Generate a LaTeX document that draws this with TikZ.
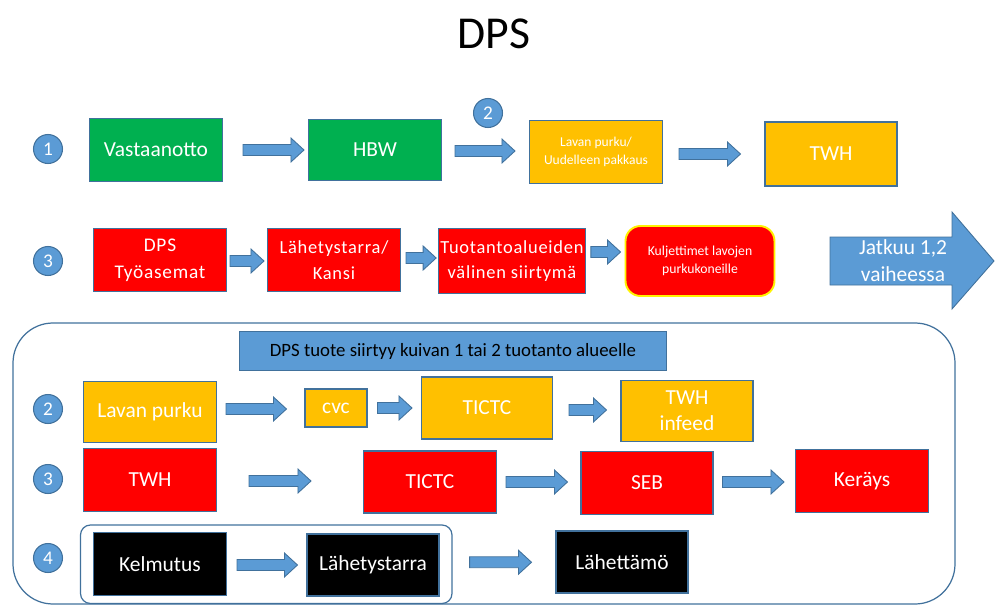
\documentclass[tikz,border=0pt]{standalone}
\usepackage{fontspec}
\setmainfont{Carlito}
\usepackage{tikz}
\usetikzlibrary{calc}
\usetikzlibrary{fit}

\definecolor{boxblue}{HTML}{5B9BD5}
\definecolor{edgeblue}{HTML}{41719C}
\definecolor{okgreen}{HTML}{00B050}
\definecolor{amber}{HTML}{FFC000}
\definecolor{stopred}{HTML}{FF0000}

\newcommand{\wide}{\addfontfeature{LetterSpace=4}}

\tikzset{
  box/.style={draw=edgeblue, line width=0.6pt, minimum width=2.66cm, minimum height=1.26cm,
    inner sep=1pt, align=center, text=white, font=\fontsize{12.2}{14.8}\selectfont},
  greenbox/.style={box, fill=okgreen},
  amberbox/.style={box, fill=amber},
  redbox/.style={box, fill=stopred},
  blackbox/.style={box, fill=black},
  stepnum/.style={circle, draw=edgeblue, fill=boxblue, line width=0.6pt, minimum size=0.58cm,
    inner sep=0pt, text=white, font=\fontsize{11}{13}\selectfont},
  barrow/.style={draw=edgeblue, fill=boxblue, line width=0.5pt, line join=miter},
  groupbox/.style={draw=edgeblue, line width=0.7pt},
}

% block arrow between two boxes: [yshift]{from}{to}{gap at start}{gap at end}
\newcommand{\flowarrow}[5][0]{%
  \path (#2.east) ++(#4,#1) coordinate (fa-s);
  \path (#3.west) ++(-#5,0) coordinate (fa-e);
  \draw[barrow] let \p1=(fa-s), \p2=(fa-e) in
    (\x1,\y1+3.1pt) -- (\x2-7.4pt,\y1+3.1pt) -- (\x2-7.4pt,\y1+6.8pt) -- (\x2,\y1)
    -- (\x2-7.4pt,\y1-6.8pt) -- (\x2-7.4pt,\y1-3.1pt) -- (\x1,\y1-3.1pt) -- cycle;
}

\begin{document}
\begin{tikzpicture}[x=0.02cm, y=-0.02cm]
    \useasboundingbox (0,0) rectangle (995,605);
    \node[font=\fontsize{26}{31}\selectfont] (title) at (494,34) {DPS};

    % vaihe 1
    \node[stepnum] (n1) at (48,149) {1};
    \node[greenbox] (vast) at (156,150) {Vastaanotto};
    \node[greenbox, minimum height=1.22cm] (hbw) at (375,150) {HBW};
    \node[stepnum] (n2) at (488,113) {2};
    \node[amberbox, font=\fontsize{7.7}{10}\selectfont] (purku) at (596,152) {Lavan purku/\\Uudelleen pakkaus};
    \node[amberbox, minimum width=2.64cm, minimum height=1.28cm] (twh) at (831,154) {TWH};
    \flowarrow{vast}{hbw}{20}{4}
    \flowarrow[1]{hbw}{purku}{13}{14}
    \flowarrow[2]{purku}{twh}{16}{24}

    % vaihe 3
    \node[stepnum] (n3) at (48,261) {3};
    \node[redbox, font=\fontsize{11}{15.3}\selectfont\wide] (tyoas) at (160,260) {DPS\\Työasemat};
    \node[redbox, font=\fontsize{10.5}{15}\selectfont\wide] (lahkansi) at (334,260) {Lähetystarra/\\Kansi};
    \node[redbox, minimum width=2.78cm, minimum height=1.3cm, font=\fontsize{10.5}{14}\selectfont\wide] (tuotanto) at (512,261) {Tuotantoalueiden\\välinen siirtymä};
    \node[box, fill=stopred, draw=yellow, line width=1.1pt, rounded corners=0.3cm, minimum width=2.98cm,
      minimum height=1.4cm, font=\fontsize{7.8}{10}\selectfont] (kulj) at (700,261) {Kuljettimet lavojen\\purkukoneille};
    \flowarrow[1]{tyoas}{lahkansi}{3}{3}
    \flowarrow[-2]{lahkansi}{tuotanto}{5}{2}
    \flowarrow[-9]{tuotanto}{kulj}{5}{4}
    \draw[barrow] (830,237) -- (952,237) -- (952,212) -- (994,261) -- (952,309) -- (952,285) -- (830,285) -- cycle;
    \node[align=center, text=white, font=\fontsize{12.2}{15.3}\selectfont] (jatkuu) at (903,261) {Jatkuu 1,2\\vaiheessa};

    % kuivan alueen osuus
    \draw[groupbox, rounded corners=0.8cm] (13,323) rectangle (955,604);
    \node[draw=edgeblue, fill=boxblue, line width=0.6pt, minimum width=8.56cm, minimum height=0.78cm,
      font=\fontsize{10.7}{13}\selectfont] (banner) at (453,351) {DPS tuote siirtyy kuivan 1 tai 2 tuotanto alueelle};

    \node[stepnum] (m2) at (48,409) {2};
    \node[amberbox, minimum height=1.22cm] (lpurku) at (150,412) {Lavan purku};
    \node[amberbox, minimum width=1.24cm, minimum height=0.76cm] (cvc) at (336,408) {cvc};
    \node[amberbox, minimum width=2.62cm, minimum height=1.24cm] (tictca) at (487,408) {TICTC};
    \node[amberbox, minimum width=2.64cm, minimum height=1.22cm] (infeed) at (687,411) {TWH\\infeed};
    \flowarrow[-3]{lpurku}{cvc}{9}{18}
    \flowarrow{cvc}{tictca}{10}{9}
    \flowarrow[2]{tictca}{infeed}{16}{14}

    \node[stepnum] (m3) at (48,479) {3};
    \node[redbox] (twhb) at (150,480) {TWH};
    \node[redbox, minimum height=1.24cm] (tictcb) at (430,482) {TICTC};
    \node[redbox, minimum width=2.64cm] (seb) at (647,483) {SEB};
    \node[redbox] (keravs) at (862,481) {Keräys};
    \flowarrow[1]{twhb}{tictcb}{32}{52}
    \flowarrow{tictcb}{seb}{9}{13}
    \flowarrow[-1]{seb}{keravs}{9}{11}

    \node[stepnum] (m4) at (48,558) {4};
    \node[blackbox] (kelm) at (160,564) {Kelmutus};
    \node[blackbox, minimum width=2.64cm, minimum height=1.24cm] (lahtarra) at (373,565) {Lähetystarra};
    \node[groupbox, rounded corners=0.2cm, fit=(kelm)(lahtarra), inner xsep=0.25cm, inner ysep=0.14cm] (pack) {};
    \node[blackbox, minimum width=2.64cm, minimum height=1.24cm] (lahettamo) at (622,562) {Lähettämö};
    \flowarrow[1]{kelm}{lahtarra}{10}{9}
    \flowarrow[-2]{pack}{lahettamo}{17}{24}
\end{tikzpicture}
\end{document}
